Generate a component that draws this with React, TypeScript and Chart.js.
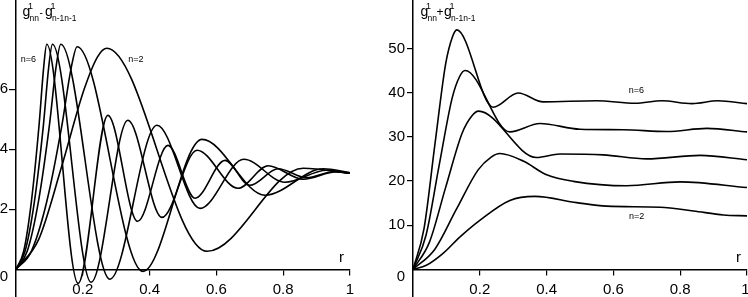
import React, { useEffect, useRef } from 'react';
import { Chart, registerables } from 'chart.js';

Chart.register(...registerables);

// ---------- data ----------
const R_TICKS = [0.2, 0.4, 0.6, 0.8, 1];
const LEFT_Y_TICKS = [2, 4, 6];
const RIGHT_Y_TICKS = [10, 20, 30, 40, 50];
const CURVE_NAMES = ['n=2', 'n=3', 'n=4', 'n=5', 'n=6'];

// Left panel: g1nn - g1n-1n-1
const L2_R = [0, 0.068, 0.136, 0.204, 0.245, 0.272, 0.572, 0.86, 1.0];
const L2_V = [0, 1.0, 3.4, 6.0, 7.1, 7.37, 0.6, 3.37, 3.2];
const L3_R = [0, 0.046, 0.092, 0.137, 0.165, 0.183, 0.38, 0.557, 0.746, 0.92, 1.0];
const L3_V = [0, 0.6, 2.25, 4.77, 6.7, 7.42, -0.07, 4.33, 2.47, 3.35, 3.22];
const L4_R = [0, 0.0335, 0.067, 0.1, 0.12, 0.134, 0.281, 0.422, 0.551, 0.682, 0.805, 0.93, 1.0];
const L4_V = [0, 0.6, 2.25, 4.8, 6.75, 7.5, -0.33, 4.8, 2.03, 3.67, 2.9, 3.3, 3.2];
const L5_R = [0, 0.027, 0.055, 0.082, 0.098, 0.109, 0.225, 0.335, 0.437, 0.542, 0.665, 0.755, 0.86, 0.96, 1.0];
const L5_V = [0, 0.6, 2.25, 4.8, 6.75, 7.5, -0.43, 4.97, 1.73, 3.97, 2.7, 3.45, 3.0, 3.25, 3.22];
const L6_R = [0, 0.023, 0.046, 0.069, 0.083, 0.092, 0.186, 0.275, 0.364, 0.455, 0.536, 0.626, 0.7, 0.785, 0.87, 0.95, 1.0];
const L6_V = [0, 0.6, 2.25, 4.8, 6.75, 7.5, -0.47, 5.13, 1.6, 4.13, 2.37, 3.63, 2.8, 3.35, 3.05, 3.25, 3.2];

// Right panel: g1nn + g1n-1n-1
const R2_R = [0, 0.04, 0.09, 0.14, 0.2, 0.29, 0.365, 0.49, 0.58, 0.74, 0.84, 0.93, 1.0];
const R2_V = [0, 0.9, 3.6, 7.3, 11.1, 15.6, 16.5, 15.1, 14.3, 14.05, 13.2, 12.3, 12.1];
const R3_R = [0, 0.065, 0.13, 0.195, 0.234, 0.26, 0.33, 0.4, 0.48, 0.64, 0.8, 1.0];
const R3_V = [0, 4.5, 13.6, 22.5, 25.4, 26.2, 24.5, 21.4, 19.9, 18.9, 19.8, 18.5];
const R4_R = [0, 0.049, 0.098, 0.147, 0.176, 0.196, 0.37, 0.44, 0.57, 0.7, 0.86, 1.0];
const R4_V = [0, 6.1, 18.6, 30.8, 34.7, 35.8, 25.3, 26.1, 25.9, 25.0, 25.8, 24.8];
const R5_R = [0, 0.039, 0.078, 0.117, 0.14, 0.156, 0.29, 0.38, 0.5, 0.63, 0.76, 0.88, 1.0];
const R5_V = [0, 7.7, 23.4, 38.7, 43.7, 45.0, 31.1, 33.0, 31.7, 31.6, 31.2, 31.9, 31.1];
const R6_R = [0, 0.033, 0.0655, 0.098, 0.118, 0.131, 0.24, 0.315, 0.39, 0.55, 0.665, 0.745, 0.835, 0.913, 1.0];
const R6_V = [0, 9.2, 28.2, 46.6, 52.6, 54.2, 36.7, 39.9, 37.9, 38.15, 37.6, 38.15, 37.5, 38.15, 37.5];

// annotation anchors (data coords)
const LEFT_NOTES = [
  { text: 'n=6', r: 0.014, v: 6.98 },
  { text: 'n=2', r: 0.336, v: 6.99 },
];
const RIGHT_NOTES = [
  { text: 'n=6', r: 0.646, v: 40.4 },
  { text: 'n=2', r: 0.647, v: 11.95 },
];

const FONT = '"Liberation Sans", Arial, Helvetica, sans-serif';
Chart.defaults.font.family = FONT;
Chart.defaults.color = '#000';

function series(rs: number[][], vs: number[][]) {
  return rs.map((r, i) => ({
    label: CURVE_NAMES[i],
    data: r.map((x, j) => ({ x, y: vs[i][j] })),
    borderColor: '#000',
    borderWidth: 1.6,
    pointRadius: 0,
    fill: false,
    cubicInterpolationMode: 'monotone' as const,
  }));
}

type PanelOpts = {
  datasets: any[];
  yMin: number;
  yMax: number;
  yTicks: number[];
  yWidth: number;
  yTickLen: number;
  yPad: number;
  padRight: number;
  hideOne: boolean;
  notes: { text: string; r: number; v: number }[];
  title: { op: string; opDx: number; g2Dx: number; dx: number };
};

function makeConfig(p: PanelOpts): any {
  const textPlugin = {
    id: 'panelTexts',
    afterDraw(chart: any) {
      const ctx = chart.ctx as CanvasRenderingContext2D;
      const xs = chart.scales.x;
      const ys = chart.scales.y;
      const zeroY = ys.getPixelForValue(0);
      const left = chart.chartArea.left;
      ctx.save();
      ctx.fillStyle = '#000';
      const put = (t: string, x: number, y: number, size: number, align: CanvasTextAlign = 'left', base: CanvasTextBaseline = 'alphabetic') => {
        ctx.font = `${size}px ${FONT}`;
        ctx.textAlign = align;
        ctx.textBaseline = base;
        ctx.fillText(t, x, y);
      };
      // title
      const x0 = left + p.title.dx;
      put('g', x0, 16, 14);
      put('1', x0 + 5.5, 8.5, 9);
      put('nn', x0 + 7, 21, 8.5);
      put(p.title.op, x0 + p.title.opDx, 16, p.title.op === '+' ? 12 : 10);
      const g2 = x0 + p.title.g2Dx;
      put('g', g2, 16, 14);
      put('1', g2 + 5.5, 8.5, 9);
      put('n-1n-1', g2 + 7, 21, 8.5);
      // zero label on y axis
      put('0', left - p.yTickLen - p.yPad, zeroY + 7.7, 15, 'right', 'middle');
      // axis name r
      put('r', xs.getPixelForValue(1) - 11, zeroY - 7, 15);
      // '1' at edge for right panel
      if (p.hideOne) {
        put('1', xs.getPixelForValue(1) + 2.5, zeroY + 21, 15, 'right', 'middle');
      }
      for (const n of p.notes) {
        put(n.text, xs.getPixelForValue(n.r), ys.getPixelForValue(n.v), 9, 'left', 'middle');
      }
      ctx.restore();
    },
  };

  return {
    type: 'line',
    data: { datasets: p.datasets },
    plugins: [textPlugin],
    options: {
      responsive: false,
      animation: false,
      events: [],
      layout: { padding: { left: 0, top: 0, bottom: 0, right: p.padRight } },
      plugins: { legend: { display: false }, tooltip: { enabled: false } },
      scales: {
        x: {
          type: 'linear',
          position: { y: 0 },
          min: 0,
          max: 1,
          bounds: 'data',
          afterBuildTicks: (s: any) => {
            s.ticks = R_TICKS.map((v) => ({ value: v }));
          },
          afterFit: (s: any) => {
            s.paddingLeft = 0;
            s.paddingRight = 0;
          },
          grid: { display: true, drawOnChartArea: false, drawTicks: true, tickLength: 5, color: '#000', lineWidth: 1.2 },
          border: { display: true, color: '#000', width: 1.5 },
          ticks: {
            autoSkip: false,
            maxRotation: 0,
            padding: 7,
            color: '#000',
            font: { size: 15, family: FONT },
            callback: (v: number) => (p.hideOne && v === 1 ? '' : String(v)),
          },
        },
        y: {
          type: 'linear',
          position: 'left',
          min: p.yMin,
          max: p.yMax,
          bounds: 'data',
          afterBuildTicks: (s: any) => {
            s.ticks = p.yTicks.map((v) => ({ value: v }));
          },
          afterFit: (s: any) => {
            s.width = p.yWidth;
            s.paddingTop = 0;
            s.paddingBottom = 0;
          },
          grid: { display: true, drawOnChartArea: false, drawTicks: true, tickLength: p.yTickLen, color: '#000', lineWidth: 1.2 },
          border: { display: true, color: '#000', width: 1.5 },
          ticks: {
            autoSkip: false,
            padding: p.yPad,
            color: '#000',
            font: { size: 15, family: FONT },
            callback: (v: number) => String(v),
          },
        },
      },
    },
  };
}

export default function App() {
  const leftRef = useRef<HTMLCanvasElement>(null);
  const rightRef = useRef<HTMLCanvasElement>(null);

  useEffect(() => {
    document.body.style.margin = '0';
    const left = new Chart(
      leftRef.current as HTMLCanvasElement,
      makeConfig({
        datasets: series([L2_R, L3_R, L4_R, L5_R, L6_R], [L2_V, L3_V, L4_V, L5_V, L6_V]),
        yMin: -27.7 / 30,
        yMax: 269.3 / 30,
        yTicks: LEFT_Y_TICKS,
        yWidth: 16,
        yTickLen: 7,
        yPad: 1,
        padRight: 30,
        hideOne: false,
        notes: LEFT_NOTES,
        title: { op: '-', opDx: 17, g2Dx: 22.5, dx: 6.5 },
      })
    );
    const right = new Chart(
      rightRef.current as HTMLCanvasElement,
      makeConfig({
        datasets: series([R2_R, R3_R, R4_R, R5_R, R6_R], [R2_V, R3_V, R4_V, R5_V, R6_V]),
        yMin: -27.7 / 4.4175,
        yMax: 269.3 / 4.4175,
        yTicks: RIGHT_Y_TICKS,
        yWidth: 33,
        yTickLen: 6,
        yPad: 2,
        padRight: 1,
        hideOne: true,
        notes: RIGHT_NOTES,
        title: { op: '+', opDx: 16, g2Dx: 23.5, dx: 7.5 },
      })
    );
    return () => {
      left.destroy();
      right.destroy();
    };
  }, []);

  return (
    <div style={{ position: 'fixed', left: 0, top: 0, width: 748, height: 297, overflow: 'hidden', background: '#fff' }}>
      <canvas ref={leftRef} width={380} height={297} style={{ position: 'absolute', left: 0, top: 0, width: 380, height: 297, display: 'block' }} />
      <canvas ref={rightRef} width={368} height={297} style={{ position: 'absolute', left: 380, top: 0, width: 368, height: 297, display: 'block' }} />
    </div>
  );
}
